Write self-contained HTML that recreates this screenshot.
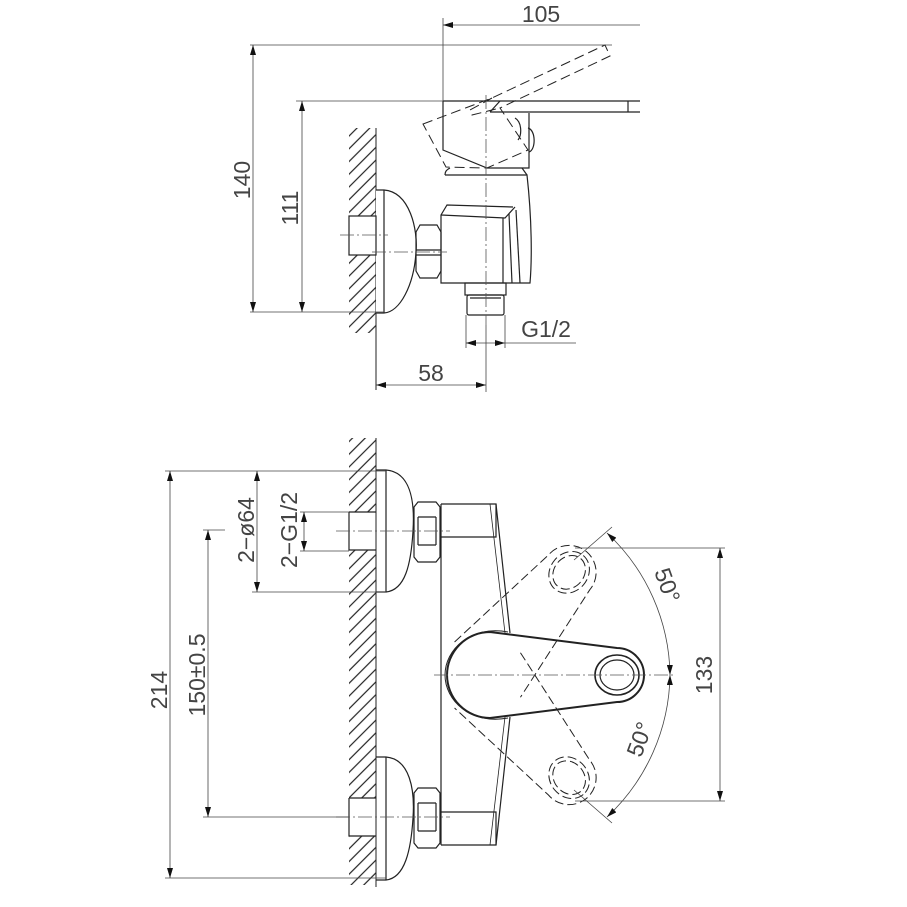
<!DOCTYPE html>
<html><head><meta charset="utf-8"><style>
html,body{margin:0;padding:0;background:#fff}
svg{display:block}
text{font-family:"Liberation Sans",sans-serif;fill:#444}
</style></head><body>
<svg width="907" height="907" viewBox="0 0 907 907" xmlns="http://www.w3.org/2000/svg">
<defs>
<pattern id="h" width="9" height="9" patternUnits="userSpaceOnUse" patternTransform="rotate(45)">
<line x1="1" y1="0" x2="1" y2="9" stroke="#222" stroke-width="1.2"/>
</pattern>
<marker id="a" viewBox="0 0 10 6" refX="10" refY="3" markerWidth="10" markerHeight="6" orient="auto-start-reverse" markerUnits="userSpaceOnUse">
<path d="M0,0 L10,3 L0,6 Z" fill="#111"/></marker>
</defs>
<g fill="none" stroke="#222" stroke-width="1.2">
<rect x="349" y="128" width="27" height="205" fill="url(#h)" stroke="none"/>
<line x1="376" y1="128" x2="376" y2="390" stroke-width="1"/>
<path d="M376 190 L384 190 C410 192 418 230 416 252 C414 285 400 312 384 313 L376 313" fill="#fff"/>
<line x1="384" y1="190" x2="384" y2="313"/>
<rect x="349" y="216" width="27" height="39" fill="#fff"/>
<path d="M416 232 L420 225 L437 225 L441 232 L441 271 L437 278 L420 278 L416 271 Z"/>
<line x1="416" y1="250" x2="441" y2="250"/><line x1="416" y1="255" x2="441" y2="255"/>
<path d="M445 175 L527 175 C532 220 532 260 530 283 L441 283 L441 215 L447 205 L513 207"/>
<path d="M441 215 L505 218 L515 207"/>
<line x1="503" y1="218" x2="503" y2="283"/><line x1="509" y1="214" x2="512" y2="283"/><line x1="516" y1="210" x2="520" y2="283"/>
<path d="M450 168 C446 170 445 172 445 175 M522 168 L527 175"/>
<rect x="465" y="283" width="41" height="12"/>
<rect x="467" y="295" width="37" height="20" rx="2"/>
<line x1="470" y1="298" x2="501" y2="298"/>
<path d="M443 101 L640 101 M443 101 L443 150 L487 168 L529 168 L529 113"/>
<path d="M490 112 L500 101 M490 112 L640 112 M628 101 L628 112"/>
<path d="M528 128 C536 130 536 150 529 152"/>
<path d="M515 118 C522 122 522 135 518 140"/>
<path d="M423 124 L492 98 L605 45 L610 56 L500 108 L528 150 L487 168 L446 167 Z M492 98 L470 110 L472 115 L500 108" stroke-dasharray="10,5" stroke-width="1"/>
<g stroke-width="0.8" stroke-dasharray="14,3,2,3" stroke="#555">
<line x1="486" y1="95" x2="486" y2="325"/>
<line x1="340" y1="235" x2="388" y2="235"/>
<line x1="372" y1="252" x2="447" y2="252"/>
</g>
<g stroke-width="0.8" stroke="#444">
<line x1="443" y1="18" x2="443" y2="101"/>
<line x1="443" y1="25" x2="640" y2="25" marker-start="url(#a)"/>
<line x1="250" y1="45" x2="612" y2="45"/>
<line x1="296" y1="101" x2="443" y2="101"/>
<line x1="250" y1="312" x2="384" y2="312"/>
<line x1="253" y1="45" x2="253" y2="312" marker-start="url(#a)" marker-end="url(#a)"/>
<line x1="302" y1="101" x2="302" y2="312" marker-start="url(#a)" marker-end="url(#a)"/>
<line x1="486" y1="325" x2="486" y2="392"/>
<line x1="376" y1="385" x2="486" y2="385" marker-start="url(#a)" marker-end="url(#a)"/>
<line x1="466" y1="315" x2="466" y2="348"/>
<line x1="505" y1="315" x2="505" y2="348"/>
<line x1="466" y1="343" x2="505" y2="343" marker-start="url(#a)" marker-end="url(#a)"/>
<line x1="505" y1="343" x2="576" y2="343"/>
</g>

<rect x="349" y="438" width="27" height="447" fill="url(#h)" stroke="none"/>
<rect x="349" y="512" width="27" height="38" fill="#fff" stroke="none"/>
<rect x="349" y="798" width="27" height="38" fill="#fff" stroke="none"/>
<line x1="376" y1="438" x2="376" y2="887" stroke-width="1"/>
<path d="M376 470 L386 470 C410 472 415 500 413 531 C411 565 405 590 386 592 L376 592"/>
<line x1="386" y1="470" x2="386" y2="592"/>
<path d="M376 757 L386 757 C410 759 415 790 413 818 C411 850 405 878 386 880 L376 880"/>
<line x1="386" y1="757" x2="386" y2="880"/>
<path d="M349 512 L376 512 M349 512 L349 550 L376 550"/>
<path d="M349 798 L376 798 M349 798 L349 836 L376 836"/>
<path d="M414 507 L418 502 L436 502 L440 507 L440 557 L436 562 L418 562 L414 557 Z"/>
<line x1="418" y1="517" x2="436" y2="517"/><line x1="418" y1="545" x2="436" y2="545"/>
<line x1="418" y1="517" x2="418" y2="545"/><line x1="436" y1="517" x2="436" y2="545"/>
<path d="M414 793 L418 788 L436 788 L440 793 L440 843 L436 848 L418 848 L414 843 Z"/>
<line x1="418" y1="803" x2="436" y2="803"/><line x1="418" y1="831" x2="436" y2="831"/>
<line x1="418" y1="803" x2="418" y2="831"/><line x1="436" y1="803" x2="436" y2="831"/>
<path d="M441 504 L496 504 L496 537 L441 537"/>
<path d="M441 812 L496 812 L496 845 L441 845"/>
<line x1="441" y1="504" x2="441" y2="845"/>
<path d="M496 504 L510 633 M496 845 L510 717"/>
<path d="M490 504 L505 633 M490 845 L505 717" stroke-width="0.8"/>
<path d="M508 632 C470 625 445 650 445 675 C445 700 470 725 508 718" stroke-width="1"/>
<g stroke-dasharray="9,4" stroke-width="1">
<g transform="rotate(-50 483 675)">
<path d="M490 632 L617 648 A27 27 0 0 1 617 702 L490 718"/>
<ellipse cx="617" cy="675" rx="22" ry="19"/><ellipse cx="617" cy="675" rx="18" ry="15"/>
</g>
<g transform="rotate(50 483 675)">
<path d="M490 632 L617 648 A27 27 0 0 1 617 702 L490 718"/>
<ellipse cx="617" cy="675" rx="22" ry="19"/><ellipse cx="617" cy="675" rx="18" ry="15"/>
</g>
</g>
<path d="M490 632 L617 648 A27 27 0 0 1 617 702 L490 718 A43 43 0 0 1 490 632 Z" stroke-width="2" fill="none"/>
<ellipse cx="617" cy="675" rx="22" ry="20" stroke-width="1.6"/>
<ellipse cx="617" cy="675" rx="17" ry="15"/>
<g stroke-width="0.8" stroke-dasharray="14,3,2,3" stroke="#555">
<line x1="336" y1="531" x2="450" y2="531"/>
<line x1="336" y1="817" x2="450" y2="817"/>
<line x1="434" y1="675" x2="676" y2="675"/>
</g>
<g stroke-width="0.8" stroke="#444">
<line x1="165" y1="471" x2="386" y2="471"/>
<line x1="165" y1="878" x2="386" y2="878"/>
<line x1="170" y1="471" x2="170" y2="878" marker-start="url(#a)" marker-end="url(#a)"/>
<line x1="203" y1="530" x2="225" y2="530"/>
<line x1="203" y1="817" x2="349" y2="817"/>
<line x1="208" y1="530" x2="208" y2="817" marker-start="url(#a)" marker-end="url(#a)"/>
<line x1="252" y1="592" x2="386" y2="592"/>
<line x1="257" y1="471" x2="257" y2="592" marker-start="url(#a)" marker-end="url(#a)"/>
<line x1="300" y1="512" x2="349" y2="512"/>
<line x1="300" y1="551" x2="349" y2="551"/>
<line x1="304" y1="512" x2="304" y2="551" marker-start="url(#a)" marker-end="url(#a)"/>
<line x1="575" y1="548" x2="725" y2="548"/>
<line x1="575" y1="801" x2="725" y2="801"/>
<line x1="720" y1="548" x2="720" y2="801" marker-start="url(#a)" marker-end="url(#a)"/>
<line x1="574" y1="560" x2="612" y2="527"/>
<line x1="574" y1="790" x2="612" y2="823"/>
<path d="M607 533 A198 198 0 0 1 670 675" marker-start="url(#a)" marker-end="url(#a)"/>
<path d="M670 675 A198 198 0 0 1 607 817" marker-start="url(#a)" marker-end="url(#a)"/>
</g>
</g>
<g font-size="23">
<text x="541" y="22" text-anchor="middle">105</text>
<text transform="translate(250,180) rotate(-90)" text-anchor="middle">140</text>
<text transform="translate(298,208) rotate(-90)" text-anchor="middle">111</text>
<text x="431" y="381" text-anchor="middle">58</text>
<text x="546" y="337" text-anchor="middle">G1/2</text>
<text transform="translate(167,690) rotate(-90)" text-anchor="middle">214</text>
<text transform="translate(205,675) rotate(-90)" text-anchor="middle">150±0.5</text>
<text transform="translate(254,530) rotate(-90)" text-anchor="middle">2−ø64</text>
<text transform="translate(297,530) rotate(-90)" text-anchor="middle">2−G1/2</text>
<text transform="translate(712,675) rotate(-90)" text-anchor="middle">133</text>
<text transform="translate(660,588) rotate(70)" text-anchor="middle">50°</text>
<text transform="translate(647,742) rotate(-70)" text-anchor="middle">50°</text>
</g>
</svg>
</body></html>
